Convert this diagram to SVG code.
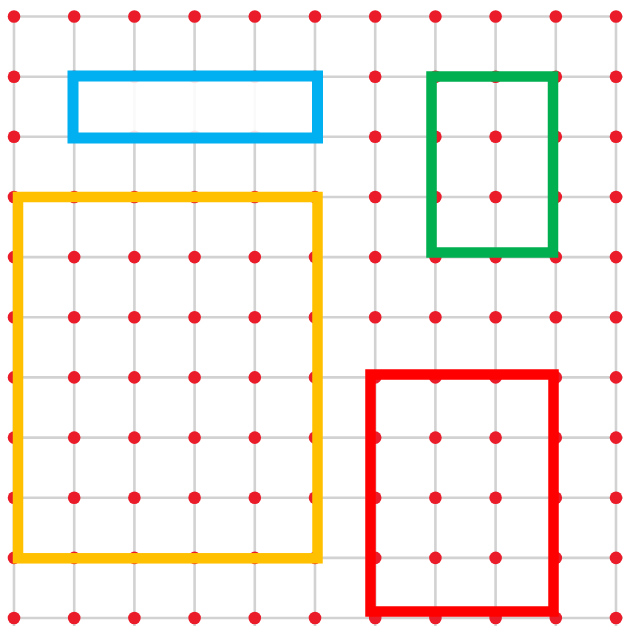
<svg xmlns="http://www.w3.org/2000/svg" width="623" height="626" viewBox="0 0 623 626">
<style>
.g{stroke:#d2d2d2;stroke-width:2.6;fill:none}
.d{fill:#ea1c2a}
.r{fill:none;stroke-width:10.5}
</style>
<defs><circle id="dot" r="6.3" class="d"/></defs>
<rect width="623" height="626" fill="#ffffff"/>
<g id="grid">
<path class="g" d="M14 16.5V626M74.2 16.5V626M134.4 16.5V626M194.6 16.5V626M254.8 16.5V626M315 16.5V626M375.2 16.5V626M435.4 16.5V626M495.6 16.5V626M555.8 16.5V626M616 16.5V626"/>
<path class="g" d="M14 16.5H623M14 76.7H623M14 136.8H623M14 197H623M14 257.1H623M14 317.3H623M14 377.4H623M14 437.6H623M14 497.7H623M14 557.9H623M14 618H623"/>
</g>
<g id="dots">
<g id="row0" transform="translate(0,16.5)"><use href="#dot" x="14"/><use href="#dot" x="74.2"/><use href="#dot" x="134.4"/><use href="#dot" x="194.6"/><use href="#dot" x="254.8"/><use href="#dot" x="315"/><use href="#dot" x="375.2"/><use href="#dot" x="435.4"/><use href="#dot" x="495.6"/><use href="#dot" x="555.8"/><use href="#dot" x="616"/></g>
<use href="#row0" y="60.2"/>
<use href="#row0" y="120.3"/>
<use href="#row0" y="180.5"/>
<use href="#row0" y="240.6"/>
<use href="#row0" y="300.8"/>
<use href="#row0" y="360.9"/>
<use href="#row0" y="421.1"/>
<use href="#row0" y="481.2"/>
<use href="#row0" y="541.4"/>
<use href="#row0" y="601.5"/>
</g>
<g id="blue-rect"><rect x="73" y="76" width="244.5" height="62" fill="#ffffff" fill-opacity="0.88" stroke="#00b0f0" stroke-width="11"/></g>
<g id="green-rect"><rect class="r" x="431.5" y="76.5" width="121.5" height="176" stroke="#00b050"/></g>
<g id="yellow-rect"><rect class="r" x="18" y="197" width="299.5" height="361.3" stroke="#ffc000"/></g>
<g id="red-rect"><rect class="r" x="370.5" y="374.5" width="183" height="237" stroke="#ff0000"/></g>
</svg>
